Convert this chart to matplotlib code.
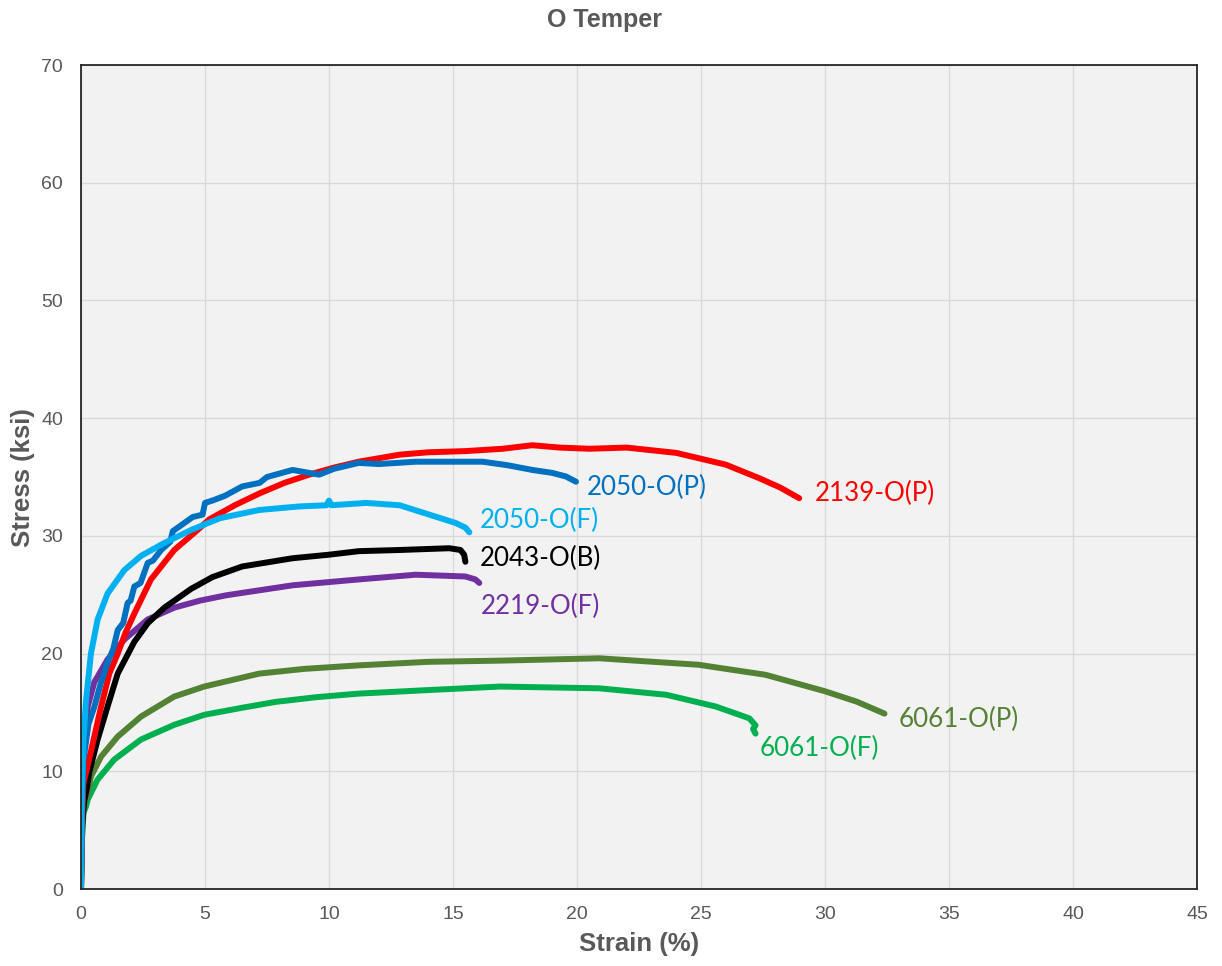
import matplotlib
matplotlib.use("Agg")
import matplotlib.pyplot as plt

# Stress-strain curves (strain %, stress ksi)
x2050F = [0, 0.03, 0.1, 0.2, 0.4, 0.67, 1.07, 1.75, 2.42, 3.36, 4.44, 5.6, 7.19, 8.8, 9.9, 10.0, 10.1,
          11.5, 12.85, 14.2, 15.1, 15.5, 15.66]
y2050F = [0, 8, 12.7, 16.0, 20.0, 22.9, 25.1, 27.1, 28.3, 29.4, 30.5, 31.5, 32.2, 32.5, 32.6, 33.0, 32.6,
          32.8, 32.6, 31.7, 31.1, 30.7, 30.3]

x2050P = [0, 0.03, 0.1, 0.3, 0.54, 0.8, 1.07, 1.3, 1.48, 1.7, 1.88, 2.0, 2.15, 2.4, 2.69, 2.9, 3.23, 3.6, 3.7,
          4.17, 4.5, 4.9, 5.0, 5.3, 5.8, 6.5, 7.2, 7.5, 8.53, 9.6, 10.2, 11.2, 12.0, 13.5, 15.0, 16.2, 17.2,
          18.2, 19.0, 19.55, 19.96]
y2050P = [0, 6, 11, 14, 15.5, 17.5, 19.2, 20.4, 22.0, 22.6, 24.3, 24.5, 25.7, 26.0, 27.7, 27.9, 28.8, 29.5, 30.4,
          31.1, 31.6, 31.8, 32.8, 33.0, 33.4, 34.2, 34.5, 35.0, 35.6, 35.2, 35.7, 36.2, 36.1, 36.3, 36.3, 36.3, 36.0,
          35.6, 35.35, 35.05, 34.6]

x2139P = [0, 0.03, 0.1, 0.4, 0.81, 1.14, 1.48, 1.8, 2.15, 2.82, 3.76, 4.7, 5.17, 6.2, 7.19, 8.2, 9.2, 10.2, 11.2,
          12.85, 14.0, 15.5, 17.0, 18.2, 19.3, 20.5, 22.0, 24.0, 26.0, 27.35, 28.2, 28.96]
y2139P = [0, 5, 9, 11.7, 15.5, 18.3, 20.0, 21.8, 23.4, 26.3, 28.8, 30.5, 31.4, 32.6, 33.6, 34.5, 35.2, 35.8, 36.3,
          36.9, 37.1, 37.2, 37.4, 37.7, 37.5, 37.4, 37.5, 37.05, 36.05, 34.9, 34.1, 33.2]

x2043B = [0, 0.03, 0.13, 0.24, 0.33, 0.67, 1.07, 1.48, 2.15, 2.7, 3.36, 4.44, 5.3, 6.5, 8.53, 10.0, 11.2,
          12.85, 14.85, 15.3, 15.45, 15.5]
y2043B = [0, 5, 7.5, 8.6, 9.9, 12.7, 15.5, 18.3, 21.0, 22.6, 23.9, 25.5, 26.5, 27.4, 28.1, 28.4, 28.7,
          28.8, 28.95, 28.8, 28.4, 27.8]

x2219F = [0, 0.02, 0.06, 0.13, 0.27, 0.54, 0.67, 1.07, 1.75, 2.69, 3.76, 4.8, 5.85, 8.53, 11.2, 13.5, 15.5, 15.9, 16.06]
y2219F = [0.8, 6, 11, 13.5, 15.5, 17.6, 18.05, 19.5, 21.2, 22.9, 23.9, 24.5, 24.95, 25.8, 26.3, 26.7, 26.55, 26.3, 26.0]

x6061P = [0, 0.03, 0.1, 0.27, 0.4, 0.81, 1.48, 2.42, 3.76, 4.97, 7.19, 9.0, 11.2, 14.0, 16.9, 20.9, 24.9,
          27.6, 30.0, 31.3, 32.4]
y6061P = [0, 4, 7.0, 8.1, 9.55, 11.25, 12.95, 14.65, 16.35, 17.2, 18.3, 18.7, 19.0, 19.3, 19.4, 19.6, 19.05,
          18.2, 16.8, 15.9, 14.9]

x6061F = [0, 0.03, 0.1, 0.2, 0.27, 0.67, 1.34, 2.42, 3.76, 4.97, 6.5, 7.86, 9.5, 11.2, 14.0, 16.9, 20.9,
          23.6, 25.6, 26.95, 27.2, 27.1, 27.2]
y6061F = [0, 4, 6.5, 7.0, 7.6, 9.3, 11.0, 12.7, 13.95, 14.8, 15.4, 15.9, 16.3, 16.6, 16.9, 17.2, 17.05,
          16.5, 15.5, 14.5, 13.9, 13.6, 13.2]

# name, x, y, colour, label position
series = [
    ("6061-O(F)", x6061F, y6061F, "#00B050", (27.38, 11.9)),
    ("6061-O(P)", x6061P, y6061P, "#548235", (32.98, 14.44)),
    ("2219-O(F)", x2219F, y2219F, "#7030A0", (16.13, 24.04)),
    ("2043-O(B)", x2043B, y2043B, "#000000", (16.09, 28.12)),
    ("2139-O(P)", x2139P, y2139P, "#FF0000", (29.6, 33.56)),
    ("2050-O(P)", x2050P, y2050P, "#0070C0", (20.4, 34.07)),
    ("2050-O(F)", x2050F, y2050F, "#00B0F0", (16.09, 31.27)),
]

plt.rcParams["font.family"] = ["Liberation Sans", "DejaVu Sans"]
grey = "#595959"

fig = plt.figure(figsize=(12.22, 9.66), dpi=100)
ax = fig.add_axes([0.0663, 0.0797, 0.9132, 0.853])
ax.set_facecolor("#F2F2F2")

for name, xs, ys, col, pos in series:
    ax.plot(xs, ys, color=col, lw=4.3, solid_capstyle="round", solid_joinstyle="round")
    ax.text(pos[0], pos[1], name, color=col, fontsize=18.7, family=["Lato", "DejaVu Sans"],
            ha="left", va="center")

ax.set_xlim(0, 45)
ax.set_ylim(0, 70)
ax.set_xticks(range(0, 46, 5))
ax.set_yticks(range(0, 71, 10))
ax.grid(True, color="#D9D9D9", lw=1)
ax.set_axisbelow(True)
ax.tick_params(length=0, labelsize=14, colors=grey)
ax.tick_params(axis="x", pad=12)
ax.tick_params(axis="y", pad=13)
for s in ax.spines.values():
    s.set_color("#262626")
    s.set_linewidth(1.3)

fig.text(0.523, 0.0228, "Strain (%)", ha="center", va="center", fontsize=18.5, fontweight="bold", color=grey)
fig.text(0.0188, 0.506, "Stress (ksi)", ha="center", va="center", rotation=90,
         fontsize=18.5, fontweight="bold", color=grey)
fig.text(0.495, 0.979, "O Temper", ha="center", va="center", fontsize=18, fontweight="bold", color=grey)

fig.savefig("out.png", dpi=100)
